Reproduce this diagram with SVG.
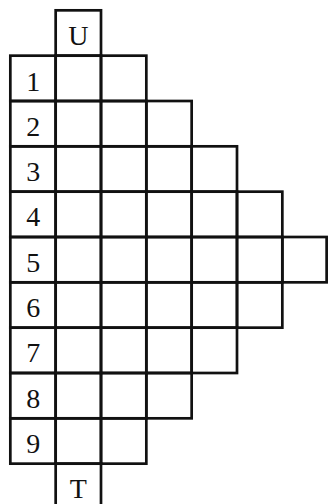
<svg xmlns="http://www.w3.org/2000/svg" width="328" height="504" viewBox="0 0 328 504">
<style>
.c{fill:none;stroke:#111;stroke-width:2.7}
text{font-family:"Liberation Serif","DejaVu Serif",serif;font-size:28px;fill:#111;text-anchor:middle}
</style>
<rect width="328" height="504" fill="#fff"/>
<g id="U"><rect class="c" x="55.67" y="10.33" width="45.33" height="45.33"/><text x="78.3" y="45.3">U</text></g>
<g id="row1"><rect class="c" x="10.33" y="55.67" width="45.33" height="45.33"/><rect class="c" x="55.67" y="55.67" width="45.33" height="45.33"/><rect class="c" x="101" y="55.67" width="45.33" height="45.33"/><text x="33.3" y="90.5">1</text></g>
<g id="row2"><rect class="c" x="10.33" y="101" width="45.33" height="45.33"/><rect class="c" x="55.67" y="101" width="45.33" height="45.33"/><rect class="c" x="101" y="101" width="45.33" height="45.33"/><rect class="c" x="146.33" y="101" width="45.33" height="45.33"/><text x="33.3" y="135.5">2</text></g>
<g id="row3"><rect class="c" x="10.33" y="146.33" width="45.33" height="45.33"/><rect class="c" x="55.67" y="146.33" width="45.33" height="45.33"/><rect class="c" x="101" y="146.33" width="45.33" height="45.33"/><rect class="c" x="146.33" y="146.33" width="45.33" height="45.33"/><rect class="c" x="191.67" y="146.33" width="45.33" height="45.33"/><text x="33.3" y="180.8">3</text></g>
<g id="row4"><rect class="c" x="10.33" y="191.67" width="45.33" height="45.33"/><rect class="c" x="55.67" y="191.67" width="45.33" height="45.33"/><rect class="c" x="101" y="191.67" width="45.33" height="45.33"/><rect class="c" x="146.33" y="191.67" width="45.33" height="45.33"/><rect class="c" x="191.67" y="191.67" width="45.33" height="45.33"/><rect class="c" x="237" y="191.67" width="45.33" height="45.33"/><text x="33.3" y="226.2">4</text></g>
<g id="row5"><rect class="c" x="10.33" y="237" width="45.33" height="45.33"/><rect class="c" x="55.67" y="237" width="45.33" height="45.33"/><rect class="c" x="101" y="237" width="45.33" height="45.33"/><rect class="c" x="146.33" y="237" width="45.33" height="45.33"/><rect class="c" x="191.67" y="237" width="45.33" height="45.33"/><rect class="c" x="237" y="237" width="45.33" height="45.33"/><rect class="c" x="282.33" y="237" width="44.3" height="45.33"/><text x="33.3" y="271.5">5</text></g>
<g id="row6"><rect class="c" x="10.33" y="282.33" width="45.33" height="45.33"/><rect class="c" x="55.67" y="282.33" width="45.33" height="45.33"/><rect class="c" x="101" y="282.33" width="45.33" height="45.33"/><rect class="c" x="146.33" y="282.33" width="45.33" height="45.33"/><rect class="c" x="191.67" y="282.33" width="45.33" height="45.33"/><rect class="c" x="237" y="282.33" width="45.33" height="45.33"/><text x="33.3" y="316.8">6</text></g>
<g id="row7"><rect class="c" x="10.33" y="327.67" width="45.33" height="45.33"/><rect class="c" x="55.67" y="327.67" width="45.33" height="45.33"/><rect class="c" x="101" y="327.67" width="45.33" height="45.33"/><rect class="c" x="146.33" y="327.67" width="45.33" height="45.33"/><rect class="c" x="191.67" y="327.67" width="45.33" height="45.33"/><text x="33.3" y="362.2">7</text></g>
<g id="row8"><rect class="c" x="10.33" y="373" width="45.33" height="45.33"/><rect class="c" x="55.67" y="373" width="45.33" height="45.33"/><rect class="c" x="101" y="373" width="45.33" height="45.33"/><rect class="c" x="146.33" y="373" width="45.33" height="45.33"/><text x="33.3" y="407.5">8</text></g>
<g id="row9"><rect class="c" x="10.33" y="418.33" width="45.33" height="45.33"/><rect class="c" x="55.67" y="418.33" width="45.33" height="45.33"/><rect class="c" x="101" y="418.33" width="45.33" height="45.33"/><text x="33.3" y="452.8">9</text></g>
<g id="T"><rect class="c" x="55.67" y="463.67" width="45.33" height="45.33"/><text x="78.3" y="498.2">T</text></g>
</svg>
